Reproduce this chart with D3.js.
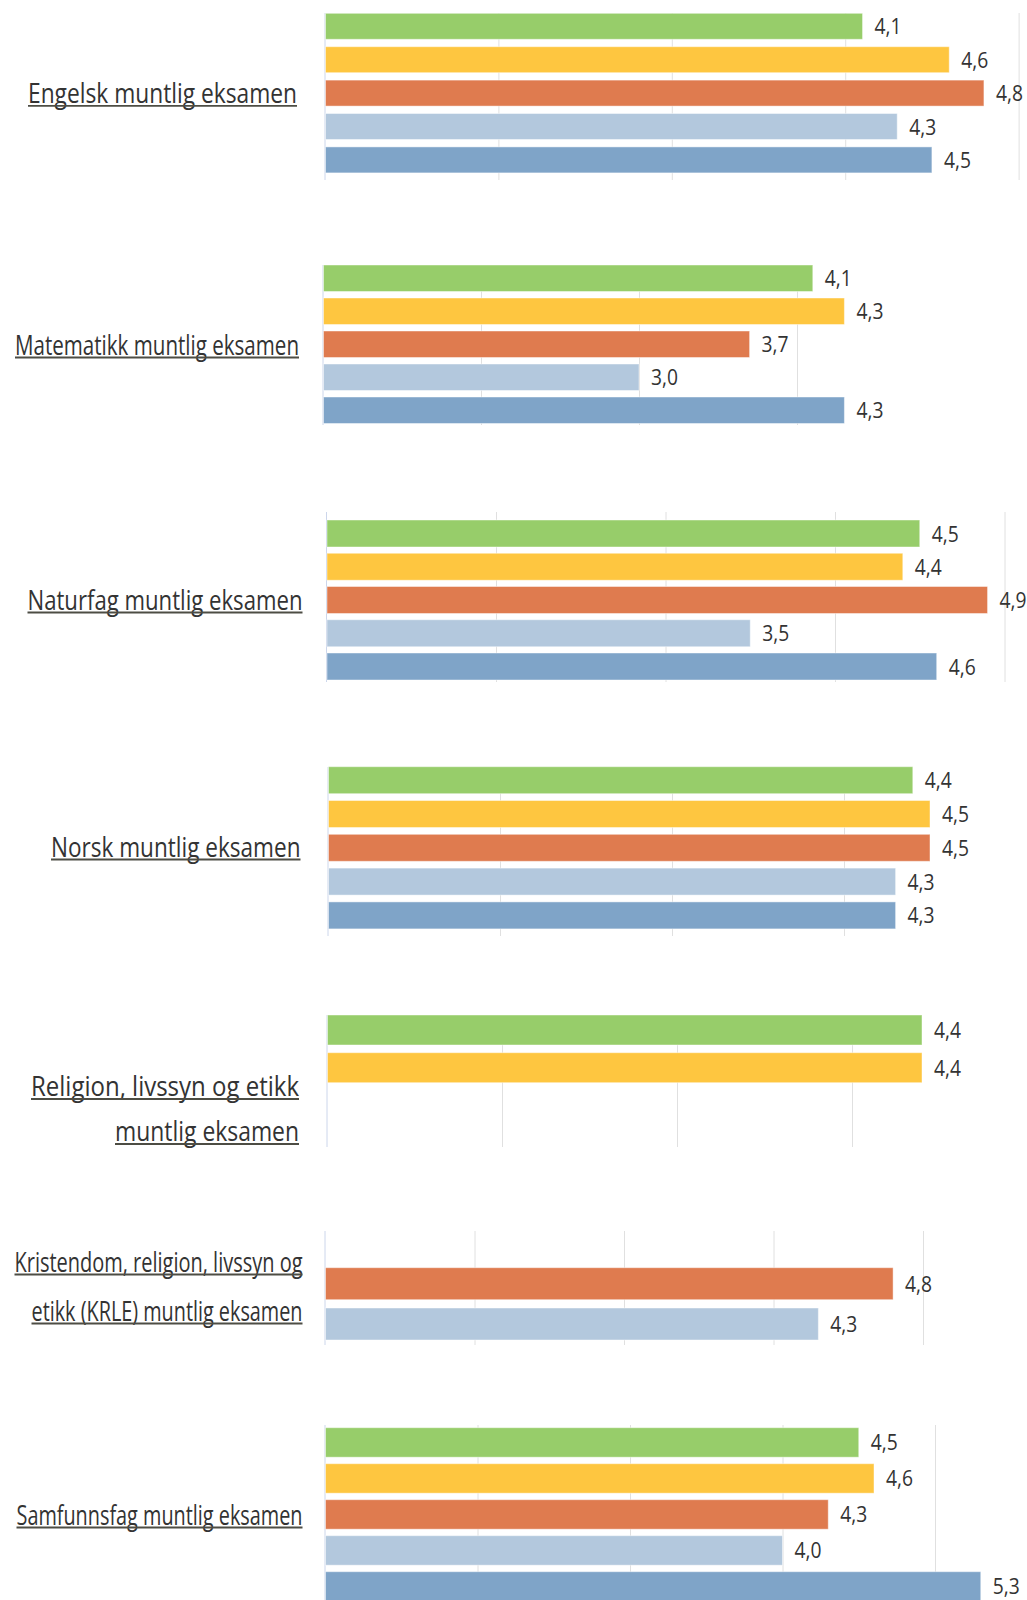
<!DOCTYPE html>
<html>
<head>
<meta charset="utf-8">
<script src="https://cdn.jsdelivr.net/npm/d3@7"></script>
<style>
  html, body { margin: 0; padding: 0; background: #ffffff; }
  svg { display: block; }
  text { font-family: "Open Sans", "Noto Sans", sans-serif; }
</style>
</head>
<body>
<svg id="chart" width="1027" height="1600"></svg>
<script>
// ---------- DATA ----------
const categories = [
  "Engelsk muntlig eksamen",
  "Matematikk muntlig eksamen",
  "Naturfag muntlig eksamen",
  "Norsk muntlig eksamen",
  "Religion, livssyn og etikk muntlig eksamen",
  "Kristendom, religion, livssyn og etikk (KRLE) muntlig eksamen",
  "Samfunnsfag muntlig eksamen"
];
const categoryLines = [
  ["Engelsk muntlig eksamen"],
  ["Matematikk muntlig eksamen"],
  ["Naturfag muntlig eksamen"],
  ["Norsk muntlig eksamen"],
  ["Religion, livssyn og etikk", "muntlig eksamen"],
  ["Kristendom, religion, livssyn og", "etikk (KRLE) muntlig eksamen"],
  ["Samfunnsfag muntlig eksamen"]
];
const seriesNames = ["Serie 1", "Serie 2", "Serie 3", "Serie 4", "Serie 5"];
const series1 = [4.1, 4.1, 4.5, 4.4, 4.4, null, 4.5];
const series2 = [4.6, 4.3, 4.4, 4.5, 4.4, null, 4.6];
const series3 = [4.8, 3.7, 4.9, 4.5, null, 4.8, 4.3];
const series4 = [4.3, 3.0, 3.5, 4.3, null, 4.3, 4.0];
const series5 = [4.5, 4.3, 4.6, 4.3, null, null, 5.3];
const allSeries = [series1, series2, series3, series4, series5];
const tickValues = [1, 2, 3, 4, 5];

// ---------- STYLE ----------
const seriesColors = ["#97cd6a", "#fec640", "#df7b4f", "#b3c8dd", "#7fa4c8"];

// ---------- LAYOUT (per panel) ----------
const panelLayout = [
  { x0: 325,   ppu: 173.4, xMax: 5,   gridTop: 13,   gridBottom: 180,  barTop: 13.3,   step: 33.4, barH: 26,   slots: [0,1,2,3,4], labelX: 297,   labelY: [93.3],          labelW: [269] },
  { x0: 323,   ppu: 158,   xMax: 4.6, gridTop: 265,  gridBottom: 425,  barTop: 265,    step: 33,   barH: 26.5, slots: [0,1,2,3,4], labelX: 299,   labelY: [345],           labelW: [284] },
  { x0: 326.5, ppu: 169.5, xMax: 5,   gridTop: 512,  gridBottom: 682,  barTop: 520,    step: 33.25,barH: 27,   slots: [0,1,2,3,4], labelX: 302.5, labelY: [600],           labelW: [275] },
  { x0: 328,   ppu: 172,   xMax: 4.6, gridTop: 767,  gridBottom: 936,  barTop: 766.7,  step: 33.8, barH: 27,   slots: [0,1,2,3,4], labelX: 300.5, labelY: [847],           labelW: [249.5] },
  { x0: 327,   ppu: 175,   xMax: 4.6, gridTop: 1015, gridBottom: 1147, barTop: 1015,   step: 37.7, barH: 30,   slots: [0,1],       labelX: 299,   labelY: [1086.5, 1131.5], labelW: [268, 184] },
  { x0: 325,   ppu: 149.5, xMax: 5,   gridTop: 1231, gridBottom: 1345, barTop: 1227.4, step: 40.3, barH: 32,   slots: [-1,2,3],    labelX: 302.5, labelY: [1262, 1311],   labelW: [288, 271] },
  { x0: 325,   ppu: 152.5, xMax: 5.3, gridTop: 1425, gridBottom: 1600, barTop: 1427.7, step: 36,   barH: 29.5, slots: [0,1,2,3,4], labelX: 302.5, labelY: [1515],          labelW: [286] }
];

const svg = d3.select("#chart");
const fmt = v => d3.format(".1f")(v).replace(".", ",");

function measure(str, size) {
  const t = svg.append("text").attr("font-size", size).text(str);
  const w = t.node().getComputedTextLength();
  t.remove();
  return w;
}
const catSize = 27;
const valSize = 22;
const valScale = 27 / measure("4,1", valSize);

categories.forEach((cat, ci) => {
  const L = panelLayout[ci];
  const x = d3.scaleLinear()
    .domain([tickValues[0], L.xMax])
    .range([L.x0, L.x0 + (L.xMax - tickValues[0]) * L.ppu]);
  const y = d3.scaleBand()
    .domain(d3.range(L.slots.length))
    .range([L.barTop, L.barTop + L.slots.length * L.step])
    .paddingInner(0).paddingOuter(0);

  const g = svg.append("g").attr("class", "panel");

  // gridlines
  const grid = g.append("g")
    .attr("transform", `translate(0,${L.gridBottom})`)
    .call(d3.axisBottom(x)
      .tickValues(tickValues.filter(t => t > tickValues[0] && t <= L.xMax))
      .tickSize(-(L.gridBottom - L.gridTop))
      .tickFormat(""));
  grid.select(".domain").remove();
  grid.selectAll(".tick line").attr("stroke", "#e0e0e0").attr("stroke-width", 1);

  // left axis line
  g.append("line")
    .attr("x1", x(tickValues[0])).attr("x2", x(tickValues[0]))
    .attr("y1", L.gridTop).attr("y2", L.gridBottom)
    .attr("stroke", "#ccd6eb").attr("stroke-width", 1);

  // bars
  const pts = L.slots.map((si, i) => ({ slot: i, si, v: si >= 0 ? allSeries[si][ci] : null }))
    .filter(d => d.v !== null);

  g.selectAll("rect.bar").data(pts).enter().append("rect")
    .attr("class", "bar")
    .attr("x", x(tickValues[0]) + 0.5)
    .attr("y", d => y(d.slot))
    .attr("width", d => x(d.v) - x(tickValues[0]) - 0.5)
    .attr("height", L.barH)
    .attr("fill", d => seriesColors[d.si])
    .attr("stroke", "#ffffff").attr("stroke-opacity", 0.45).attr("stroke-width", 1);

  // value labels
  g.selectAll("text.val").data(pts).enter().append("text")
    .attr("class", "val")
    .attr("transform", d => `translate(${x(d.v) + 12},${y(d.slot) + L.barH / 2 + 8}) scale(${valScale},1)`)
    .attr("font-size", valSize)
    .attr("fill", "#333333")
    .text(d => fmt(d.v));

  // category label (underlined, fitted to the original's condensed width)
  categoryLines[ci].forEach((line, li) => {
    const w = L.labelW[li];
    const base = L.labelY[li] + 9.5;
    g.append("text")
      .attr("x", L.labelX - w)
      .attr("y", base)
      .attr("textLength", w)
      .attr("lengthAdjust", "spacingAndGlyphs")
      .attr("font-size", catSize)
      .attr("fill", "#333333")
      .text(line);
    g.append("line")
      .attr("x1", L.labelX - w).attr("x2", L.labelX)
      .attr("y1", base + 3).attr("y2", base + 3)
      .attr("stroke", "#4d4d44").attr("stroke-width", 1.8);
  });
});
</script>
</body>
</html>
